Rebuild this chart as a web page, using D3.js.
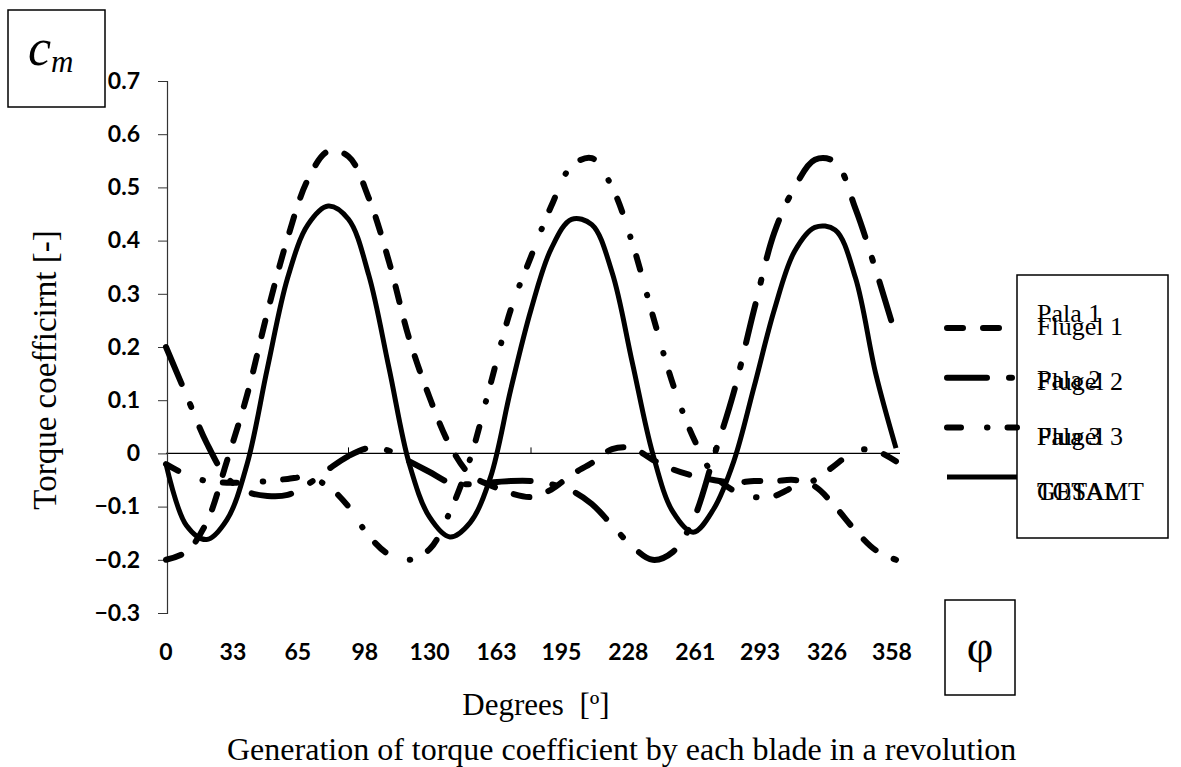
<!DOCTYPE html>
<html>
<head>
<meta charset="utf-8">
<script src="https://cdn.jsdelivr.net/npm/d3@7"></script>
<style>
	body { margin: 0; background: #fff; }
	svg { display: block; }
	.serif { font-family: "Liberation Serif", "Times New Roman", serif; fill: #000; }
	.tick-label { font-family: Lato, "Open Sans", sans-serif; font-weight: 700; fill: #000; }
</style>
</head>
<body>
<div id="chart"></div>
<script>
// angle of the rotor [deg] and torque coefficient of each blade
const angles = [0, 10, 20, 30, 40, 50, 60, 70, 80, 90, 100, 110, 120, 130, 140, 150, 160, 170, 180,
	190, 200, 210, 220, 230, 240, 250, 260, 270, 280, 290, 300, 310, 320, 330, 340, 350, 360];
const pala1 = [-0.2, -0.185, -0.13, -0.015, 0.11, 0.265, 0.405, 0.515, 0.568, 0.558, 0.48, 0.36, 0.215,
	0.105, 0.015, -0.04, -0.06, -0.075, -0.082, -0.068, -0.04, -0.018, 0.008, 0.01, -0.012, -0.03, -0.042,
	-0.05, -0.055, -0.052, -0.052, -0.05, -0.062, -0.1, -0.145, -0.182, -0.2];
const pala2 = [0.2, 0.11, 0.02, -0.045, -0.072, -0.08, -0.078, -0.058, -0.03, -0.005, 0.01, 0.005, -0.015,
	-0.035, -0.055, -0.058, -0.055, -0.052, -0.052, -0.058, -0.07, -0.095, -0.135, -0.175, -0.2, -0.185,
	-0.125, -0.008, 0.115, 0.27, 0.415, 0.5, 0.552, 0.548, 0.46, 0.345, 0.22];
const pala3 = [-0.02, -0.04, -0.052, -0.055, -0.055, -0.052, -0.048, -0.045, -0.062, -0.1, -0.155, -0.19,
	-0.2, -0.18, -0.11, -0.01, 0.13, 0.27, 0.37, 0.465, 0.54, 0.555, 0.5, 0.395, 0.26, 0.13, 0.03, -0.04,
	-0.07, -0.082, -0.08, -0.062, -0.05, -0.022, 0.005, 0.005, -0.015];
const total = [-0.02, -0.135, -0.162, -0.125, -0.02, 0.16, 0.33, 0.43, 0.465, 0.44, 0.335, 0.16, -0.02,
	-0.12, -0.157, -0.13, -0.045, 0.12, 0.27, 0.385, 0.44, 0.43, 0.34, 0.17, 0.0, -0.11, -0.148, -0.105,
	-0.015, 0.125, 0.27, 0.38, 0.425, 0.42, 0.33, 0.15, 0.01];

const xTicks = [0, 33, 65, 98, 130, 163, 195, 228, 261, 293, 326, 358];
const yTicks = [-0.3, -0.2, -0.1, 0, 0.1, 0.2, 0.3, 0.4, 0.5, 0.6, 0.7];
const labelsA = ["Pala 1", "Pala 2", "Pala 3", "TOTAL"];
const labelsB = ["Flugel 1", "Flugel 2", "Flugel 3", "GESAMT"];

const size = { w: 1181, h: 767 };
const svg = d3
	.select("#chart")
	.append("svg")
	.attr("width", size.w)
	.attr("height", size.h);

const x = d3.scaleLinear().domain([0, 360]).range([166, 896]);
const y = d3.scaleLinear().domain([-0.3, 0.7]).range([613, 81]);

const series = [
	{ name: labelsA[0], values: pala1, dash: "16,20", width: 6 },
	{ name: labelsA[1], values: pala2, dash: "40,22,3,22", width: 6 },
	{ name: labelsA[2], values: pala3, dash: "14,26,0.5,20", width: 6 },
	{ name: labelsA[3], values: total, dash: null, width: 5 },
];

// zero line across the plot
svg.append("line")
	.attr("x1", x(0))
	.attr("x2", 900)
	.attr("y1", y(0))
	.attr("y2", y(0))
	.attr("stroke", "#000")
	.attr("stroke-width", 1.2);
svg.append("g")
	.selectAll("line")
	.data([90, 180, 270])
	.join("line")
	.attr("x1", (d) => x(d))
	.attr("x2", (d) => x(d))
	.attr("y1", y(0))
	.attr("y2", y(0) - 6)
	.attr("stroke", "#000")
	.attr("stroke-width", 1);

// y axis
const yAxis = svg
	.append("g")
	.attr("transform", `translate(${x(0) + 1}, 0)`)
	.call(
		d3.axisLeft(y)
			.tickValues(yTicks)
			.tickSize(9)
			.tickPadding(18)
			.tickFormat((d) => (d === 0 ? "0" : d3.format(".1f")(d)))
	);
yAxis.select(".domain").attr("stroke", "#333").attr("stroke-width", 1.2);
yAxis.selectAll(".tick line").attr("stroke", "#333");
yAxis.selectAll(".tick text")
	.attr("class", "tick-label")
	.style("font-size", "23px");

// x labels at the bottom
svg.append("g")
	.selectAll("text")
	.data(xTicks)
	.join("text")
	.attr("class", "tick-label")
	.attr("x", (d) => x(d))
	.attr("y", 660)
	.attr("text-anchor", "middle")
	.style("font-size", "23px")
	.text((d) => d);

// curves
const line = d3
	.line()
	.x((d) => x(d[0]))
	.y((d) => y(d[1]))
	.curve(d3.curveCatmullRom.alpha(0.5));

svg.append("g")
	.selectAll("path")
	.data(series)
	.join("path")
	.attr("d", (s) => line(angles.map((a, i) => [a, s.values[i]])))
	.attr("fill", "none")
	.attr("stroke", "#000")
	.attr("stroke-width", (s) => s.width)
	.attr("stroke-linecap", (s) => (s.dash ? "round" : "butt"))
	.attr("stroke-linejoin", "round")
	.attr("stroke-dasharray", (s) => s.dash);

// legend
const legendG = svg.append("g");
legendG
	.selectAll("line")
	.data(series)
	.join("line")
	.attr("x1", 947)
	.attr("x2", 1017)
	.attr("y1", (s, i) => 328 + i * 49.7)
	.attr("y2", (s, i) => 328 + i * 49.7)
	.attr("stroke", "#000")
	.attr("stroke-width", (s) => s.width)
	.attr("stroke-linecap", (s) => (s.dash ? "round" : "butt"))
	.attr("stroke-dasharray", (s) => s.dash);
legendG
	.append("rect")
	.attr("x", 1017)
	.attr("y", 275)
	.attr("width", 151)
	.attr("height", 263)
	.attr("fill", "none")
	.attr("stroke", "#000")
	.attr("stroke-width", 1.5);
const shiftA = [-13, -2, 0, 0];
legendG
	.selectAll("text.la")
	.data(labelsA)
	.join("text")
	.attr("class", "la serif")
	.attr("x", 1037)
	.attr("y", (d, i) => 335 + i * 55 + shiftA[i])
	.style("font-size", "26px")
	.text((d) => d);
legendG
	.selectAll("text.lb")
	.data(labelsB)
	.join("text")
	.attr("class", "lb serif")
	.attr("x", 1037)
	.attr("y", (d, i) => 335 + i * 55)
	.style("font-size", "26px")
	.text((d) => d);

// c_m box
svg.append("rect")
	.attr("x", 8)
	.attr("y", 10)
	.attr("width", 97)
	.attr("height", 97)
	.attr("fill", "none")
	.attr("stroke", "#000")
	.attr("stroke-width", 1.5);
const cm = svg.append("text").attr("class", "serif").attr("x", 28).attr("y", 65).style("font-style", "italic");
cm.append("tspan").style("font-size", "52px").text("c");
cm.append("tspan").style("font-size", "31px").attr("dy", 7).text("m");

// phi box
svg.append("rect")
	.attr("x", 945)
	.attr("y", 600)
	.attr("width", 70)
	.attr("height", 95)
	.attr("fill", "none")
	.attr("stroke", "#000")
	.attr("stroke-width", 1.5);
svg.append("text")
	.attr("class", "serif")
	.attr("x", 980)
	.attr("y", 662)
	.attr("text-anchor", "middle")
	.style("font-size", "46px")
	.text("φ");

// titles
svg.append("text")
	.attr("class", "serif")
	.attr("transform", "translate(56, 370) rotate(-90)")
	.attr("text-anchor", "middle")
	.style("font-size", "33px")
	.text("Torque coefficirnt [-]");
svg.append("text")
	.attr("class", "serif")
	.attr("x", 536)
	.attr("y", 715)
	.attr("text-anchor", "middle")
	.style("font-size", "31px")
	.style("white-space", "pre")
	.text("Degrees  [º]");
svg.append("text")
	.attr("class", "serif")
	.attr("x", 227)
	.attr("y", 760)
	.style("font-size", "32px")
	.text("Generation of torque coefficient by each blade in a revolution");
</script>
</body>
</html>
